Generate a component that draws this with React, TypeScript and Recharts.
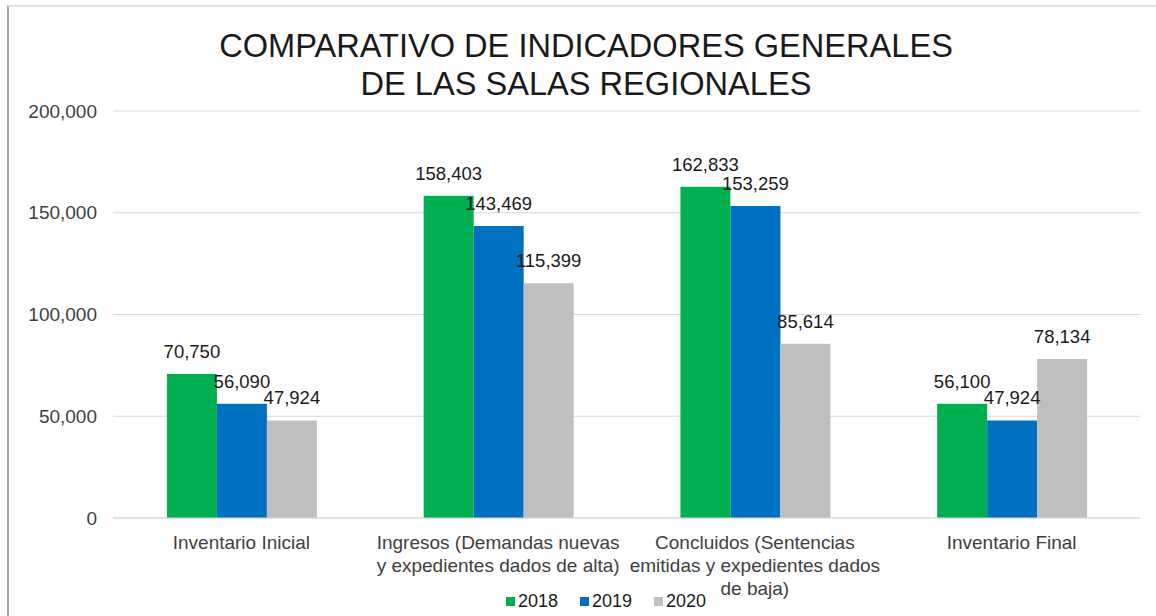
import { BarChart, Bar, XAxis, YAxis, CartesianGrid, LabelList } from 'recharts';

const categories = [
  ['Inventario Inicial'],
  ['Ingresos (Demandas nuevas', 'y expedientes dados de alta)'],
  ['Concluidos (Sentencias', 'emitidas y expedientes dados', 'de baja)'],
  ['Inventario Final'],
];
const values2018 = [70750, 158403, 162833, 56100];
const values2019 = [56090, 143469, 153259, 47924];
const values2020 = [47924, 115399, 85614, 78134];
const yTicks = [0, 50000, 100000, 150000, 200000];

const series = [
  { key: 'y2018', name: '2018', color: '#00B050' },
  { key: 'y2019', name: '2019', color: '#0070C0' },
  { key: 'y2020', name: '2020', color: '#BFBFBF' },
];

const data = categories.map((lines, i) => ({
  name: lines.join(' '),
  lines,
  y2018: values2018[i],
  y2019: values2019[i],
  y2020: values2020[i],
}));

const font = '"Liberation Sans", Arial, sans-serif';
const fmt = (v: number) => v.toLocaleString('en-US');

function CategoryTick(props: any) {
  const { x, y, index } = props;
  const lines = categories[index] || [];
  return (
    <text x={x} y={y} textAnchor="middle" fill="#404040" fontSize={19} fontFamily={font}>
      {lines.map((l, i) => (
        <tspan key={i} x={x} dy={i === 0 ? 29 : 23}>
          {l}
        </tspan>
      ))}
    </text>
  );
}

export default function App() {
  return (
    <div style={{ position: 'absolute', left: 0, top: 0, width: 1156, height: 616, background: '#fff', fontFamily: font }}>
      <div style={{ position: 'absolute', left: 7, top: 5, right: 0, bottom: 0, borderLeft: '2px solid #a6a6a6', borderTop: '2px solid #e0e0e0' }} />
      <div style={{ position: 'absolute', left: 0, width: 1172, top: 27, textAlign: 'center', fontSize: 32.6, lineHeight: '38px', color: '#1a1a1a' }}>
        COMPARATIVO DE INDICADORES GENERALES
        <br />
        DE LAS SALAS REGIONALES
      </div>
      <BarChart
        width={1156}
        height={616}
        data={data}
        margin={{ top: 111, right: 16, bottom: 68, left: 0 }}
        barCategoryGap="21%"
        barGap={0}
        style={{ position: 'absolute', left: 0, top: 0 }}
      >
        <CartesianGrid vertical={false} stroke="#d9d9d9" />
        <XAxis dataKey="name" tick={<CategoryTick />} tickLine={false} axisLine={{ stroke: '#d9d9d9' }} interval={0} tickSize={0} />
        <YAxis
          width={113}
          domain={[0, 200000]}
          ticks={yTicks}
          tickFormatter={fmt}
          tickLine={false}
          axisLine={false}
          tickSize={0}
          tickMargin={16}
          tick={{ fill: '#404040', fontSize: 19, fontFamily: font }}
        />
        {series.map((s) => (
          <Bar key={s.key} dataKey={s.key} name={s.name} fill={s.color} isAnimationActive={false}>
            <LabelList dataKey={s.key} position="top" offset={16} formatter={(v: any) => fmt(Number(v))} fill="#1a1a1a" fontSize={18.5} fontFamily={font} />
          </Bar>
        ))}
      </BarChart>
      <div style={{ position: 'absolute', left: 0, width: 1212, top: 591, display: 'flex', justifyContent: 'center', gap: 22, fontSize: 18, color: '#1a1a1a' }}>
        {series.map((s) => (
          <div key={s.key} style={{ display: 'flex', alignItems: 'center' }}>
            <span style={{ width: 9, height: 9, background: s.color, display: 'inline-block', marginRight: 3 }} />
            {s.name}
          </div>
        ))}
      </div>
    </div>
  );
}
